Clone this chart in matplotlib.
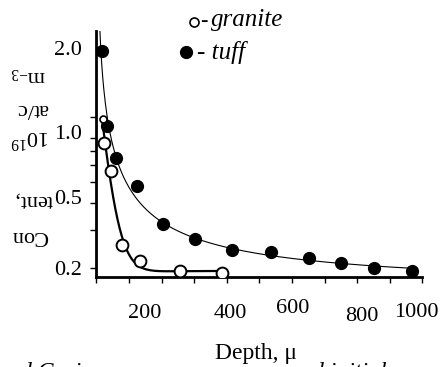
"""
Content vs depth for granite and tuff (log scale)
"""
import numpy as np
import matplotlib
matplotlib.use('Agg')
import matplotlib.pyplot as plt
from matplotlib.lines import Line2D

plt.rcParams['font.family'] = ['Liberation Serif', 'DejaVu Sans']
plt.rcParams['mathtext.fontset'] = 'custom'
plt.rcParams['mathtext.rm'] = 'Liberation Serif'
plt.rcParams['mathtext.it'] = 'Liberation Serif:italic'

# Dados
tuff_depth = [16, 31, 61, 123, 203, 303, 415, 536, 651, 750, 853, 968]
tuff_content = [2.03, 0.906, 0.644, 0.478, 0.322, 0.272, 0.242, 0.238, 0.224, 0.211, 0.200, 0.194]
granite_depth = [19, 23, 45, 78, 133, 257, 385]
granite_content = [0.986, 0.758, 0.564, 0.257, 0.216, 0.195, 0.190]

x_ticks = [0, 100, 200, 300, 400, 500, 600, 700, 800, 900, 1000]
y_ticks = [0.2, 0.3, 0.4, 0.5, 0.6, 0.7, 0.8, 1.0]
x_labels = ['200', '400', '600', '800', '1000']
y_labels = ['2.0', '1.0', '0.5', '0.2']


def fit_exp(x, y, xs):
    """Ajuste a + b1*exp(-x/c1) + b2*exp(-x/c2) (erro relativo)"""
    x = np.asarray(x, float)
    y = np.asarray(y, float)
    best = None
    for c1 in np.linspace(2, 80, 79):
        for c2 in np.linspace(60, 1500, 73):
            if c2 <= c1:
                continue
            A = np.column_stack([np.ones_like(x), np.exp(-x / c1), np.exp(-x / c2)])
            coef, *_ = np.linalg.lstsq(A / y[:, None], np.ones_like(y), rcond=None)
            res = np.sum((A @ coef / y - 1) ** 2)
            if best is None or res < best[0]:
                best = (res, c1, c2, coef)
    _, c1, c2, coef = best
    xs = np.asarray(xs, float)
    return coef[0] + coef[1] * np.exp(-xs / c1) + coef[2] * np.exp(-xs / c2)


def fit_power(x, y, xs):
    """Ajuste a + b*x^-p (erro relativo)"""
    x = np.asarray(x, float)
    y = np.asarray(y, float)
    best = None
    for p in np.linspace(0.2, 2.5, 231):
        A = np.column_stack([np.ones_like(x), x ** -p])
        coef, *_ = np.linalg.lstsq(A / y[:, None], np.ones_like(y), rcond=None)
        res = np.sum((A @ coef / y - 1) ** 2)
        if best is None or res < best[0]:
            best = (res, p, coef)
    _, p, coef = best
    xs = np.asarray(xs, float)
    return coef[0] + coef[1] * xs ** -p


fig = plt.figure(figsize=(4.41, 3.67), dpi=100)
ax = fig.add_axes([0.2188, 0.245, 0.739, 0.67])

# Curvas ajustadas
xs_t = np.linspace(3, tuff_depth[-1], 600)
ax.plot(xs_t, fit_power(tuff_depth, tuff_content, xs_t), color='black', lw=0.8)
xs_g = np.linspace(granite_depth[0], granite_depth[-1], 400)
ax.plot(xs_g, fit_exp(granite_depth, granite_content, xs_g), color='black', lw=1.6)

# Pontos
ax.plot(tuff_depth, tuff_content, 'o', color='black', ms=8.5, zorder=5)
ax.plot(granite_depth[1:], granite_content[1:], 'o', mfc='white', mec='black',
        mew=1.4, ms=8.5, zorder=6)
ax.plot(granite_depth[:1], granite_content[:1], 'o', mfc='white', mec='black',
        mew=1.2, ms=5, zorder=6)

ax.set_yscale('log')
ax.set_xlim(0, 1000)
ax.set_ylim(0.182, 2.5)
ax.set_xticks(x_ticks)
ax.set_yticks(y_ticks)
ax.yaxis.set_minor_locator(plt.NullLocator())
ax.set_xticklabels([])
ax.set_yticklabels([])
ax.tick_params(direction='out', length=4, width=1)

for side in ['top', 'right']:
    ax.spines[side].set_visible(False)
for side in ['left', 'bottom']:
    ax.spines[side].set_linewidth(2)

# Rotulos dos ticks (posicoes como no original)
x_label_pos = [149, 410, 602, 814, 983]
x_label_y = [-0.148, -0.148, -0.128, -0.160, -0.144]
for lab, xp, yp in zip(x_labels, x_label_pos, x_label_y):
    ax.text(xp, yp, lab, transform=ax.get_xaxis_transform(), ha='center',
            va='center', fontsize=16)

y_label_pos = [2.04, 0.83, 0.417, 0.196]
for lab, yp in zip(y_labels, y_label_pos):
    ax.text(-0.087, yp, lab, transform=ax.get_yaxis_transform(), ha='center',
            va='center', fontsize=16)

# Titulo do eixo y, de cabeca para baixo
ylab_parts = ['Con', 'tent,', '10$^{19}$', 'at/c', 'm$_{-3}$']
ylab_px = [(30, 236), (33, 200), (30, 137), (32, 108), (28, 75)]
for txt, (px, py) in zip(ylab_parts, ylab_px):
    fig.text(px / 441, 1 - py / 367, txt, rotation=180, ha='center',
             va='center', fontsize=16)

fig.text(256 / 441, 1 - 354 / 367, 'Depth, \u03bc', ha='center', va='center',
         fontsize=17)

# Legenda
fig.add_artist(Line2D([193.5 / 441], [1 - 21.5 / 367], marker='o', mfc='white',
                      mec='black', mew=1.2, ms=6.5, transform=fig.transFigure))
fig.text(200 / 441, 1 - 21 / 367, '-', ha='left', va='center', fontsize=16,
         weight='bold')
fig.text(211 / 441, 1 - 20 / 367, 'granite', ha='left', va='center',
         fontsize=18, style='italic')
fig.add_artist(Line2D([186 / 441], [1 - 52 / 367], marker='o', color='black',
                      ms=8.5, transform=fig.transFigure))
fig.text(197 / 441, 1 - 52 / 367, '- tuff', ha='left', va='center',
         fontsize=18, style='italic')

# Legenda da figura cortada na borda inferior
fig.text(20 / 441, 1 - 378 / 367, 'd Curi', ha='left', va='baseline',
         fontsize=17, style='italic')
fig.text(312 / 441, 1 - 378 / 367, 'd initial', ha='left', va='baseline',
         fontsize=17, style='italic')

fig.savefig('out.png', dpi=100)
